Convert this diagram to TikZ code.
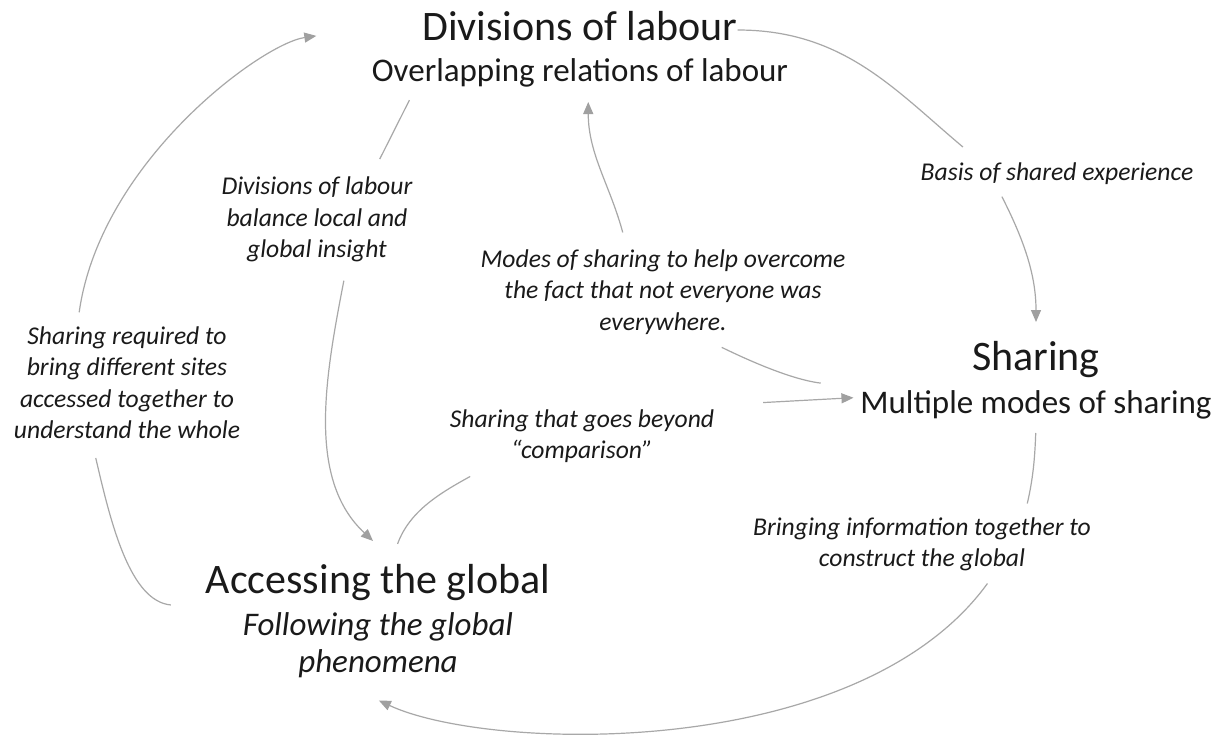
\documentclass[tikz,border=0pt]{standalone}
\usepackage{fontspec}
\setmainfont{Carlito}
\usepackage{xcolor}
\definecolor{LinkGray}{HTML}{A8A8A8}
\definecolor{TipGray}{HTML}{A0A0A0}
\definecolor{TextBlack}{HTML}{1A1A1A}
\usetikzlibrary{arrows.meta}
\usetikzlibrary{positioning}

\begin{document}
\begin{tikzpicture}[x=1pt, y=-1pt,
    inner sep=0pt,
    outer sep=0pt,
    text=TextBlack,
    concept/.style={font=\fontsize{42}{50}\selectfont},
    detail/.style={font=\fontsize{33}{37}\selectfont, align=center},
    note/.style={font=\fontsize{25.6}{31.5}\selectfont\itshape, align=center},
    conn/.style={draw=LinkGray, line width=1.2pt},
    connarrow/.style={conn, -{Triangle[length=12pt,width=10pt,color=TipGray]}}]

    \path [use as bounding box, fill=white] (0,0) rectangle (1230,742);

    \node[name=div, concept] at (580,30) {\strut Divisions of labour};
    \node[name=divsub, detail, below=1pt of div] {\strut Overlapping relations of labour};

    \node[name=sharing, concept] at (1036,360) {\strut Sharing};
    \node[name=multi, detail, below=3pt of sharing] {\strut Multiple modes of sharing};

    \node[name=access, concept] at (378,583) {\strut Accessing the global};
    \node[name=follow,
      detail,
      font=\fontsize{33}{37}\selectfont\itshape,
      below=2pt of access] {\strut Following the global\\\strut phenomena};

    \node[name=basis, note] at (1057,173.7) {\strut Basis of shared experience};
    \node[name=divnote, note] at (317,219.7)
      {\strut Divisions of labour\\\strut balance local and\\\strut global insight};
    \node[name=modesnote, note] at (663,292.2)
      {\strut Modes of sharing to help overcome\\\strut the fact that not everyone was\\\strut everywhere.};
    \node[name=reqnote, note] at (127,385.2)
      {\strut Sharing required to\\\strut bring different sites\\\strut accessed together to\\\strut understand the whole};
    \node[name=beyondnote, note] at (582,436.7)
      {\strut Sharing that goes beyond\\\strut “comparison”};
    \node[name=bringnote, note] at (922,544.7)
      {\strut Bringing information together to\\\strut construct the global};

    \path (div.east) edge[conn, out=0, in=140, shorten >=17pt] (basis.169);
    \path (basis.195) edge[connarrow, out=-63, in=90, shorten <=8pt, shorten >=13pt] (sharing.north);
    \path (multi.north west) edge[conn, out=173, in=-26, shorten <=40pt, shorten >=18pt] (modesnote.-48);
    \path (modesnote.128) edge[connarrow, out=105, in=-90, shorten <=13pt, shorten >=9pt] (divsub.-66);
    \path ([xshift=-167pt]divsub.south) edge[conn, shorten <=8pt, shorten >=15pt] ([xshift=56pt]divnote.north);
    \path (divnote.-58) edge[connarrow, out=259, in=137, shorten <=14pt, shorten >=25pt] (access.62);
    \path (access.60) edge[conn, out=70, in=209, shorten <=15pt, shorten >=17pt] (beyondnote.198);
    \path (beyondnote.north east) edge[connarrow, shorten <=49pt, shorten >=7pt] (multi.177);
    \path (multi.south) edge[conn, out=268, in=77, shorten <=8pt, shorten >=10pt] (bringnote.17);
    \path (bringnote.-24) edge[connarrow, out=234, in=-25, out distance=230pt, in distance=160pt,
      shorten <=9pt, shorten >=39pt] (follow.227);
    \path (access.south west) edge[conn, out=175, in=-77, shorten <=35pt, shorten >=10pt] (reqnote.242);
    \path (reqnote.128) edge[connarrow, out=82, in=188, distance=162pt,
      shorten <=10pt, shorten >=107pt] ([yshift=9pt]div.west);
  \end{tikzpicture}
\end{document}
